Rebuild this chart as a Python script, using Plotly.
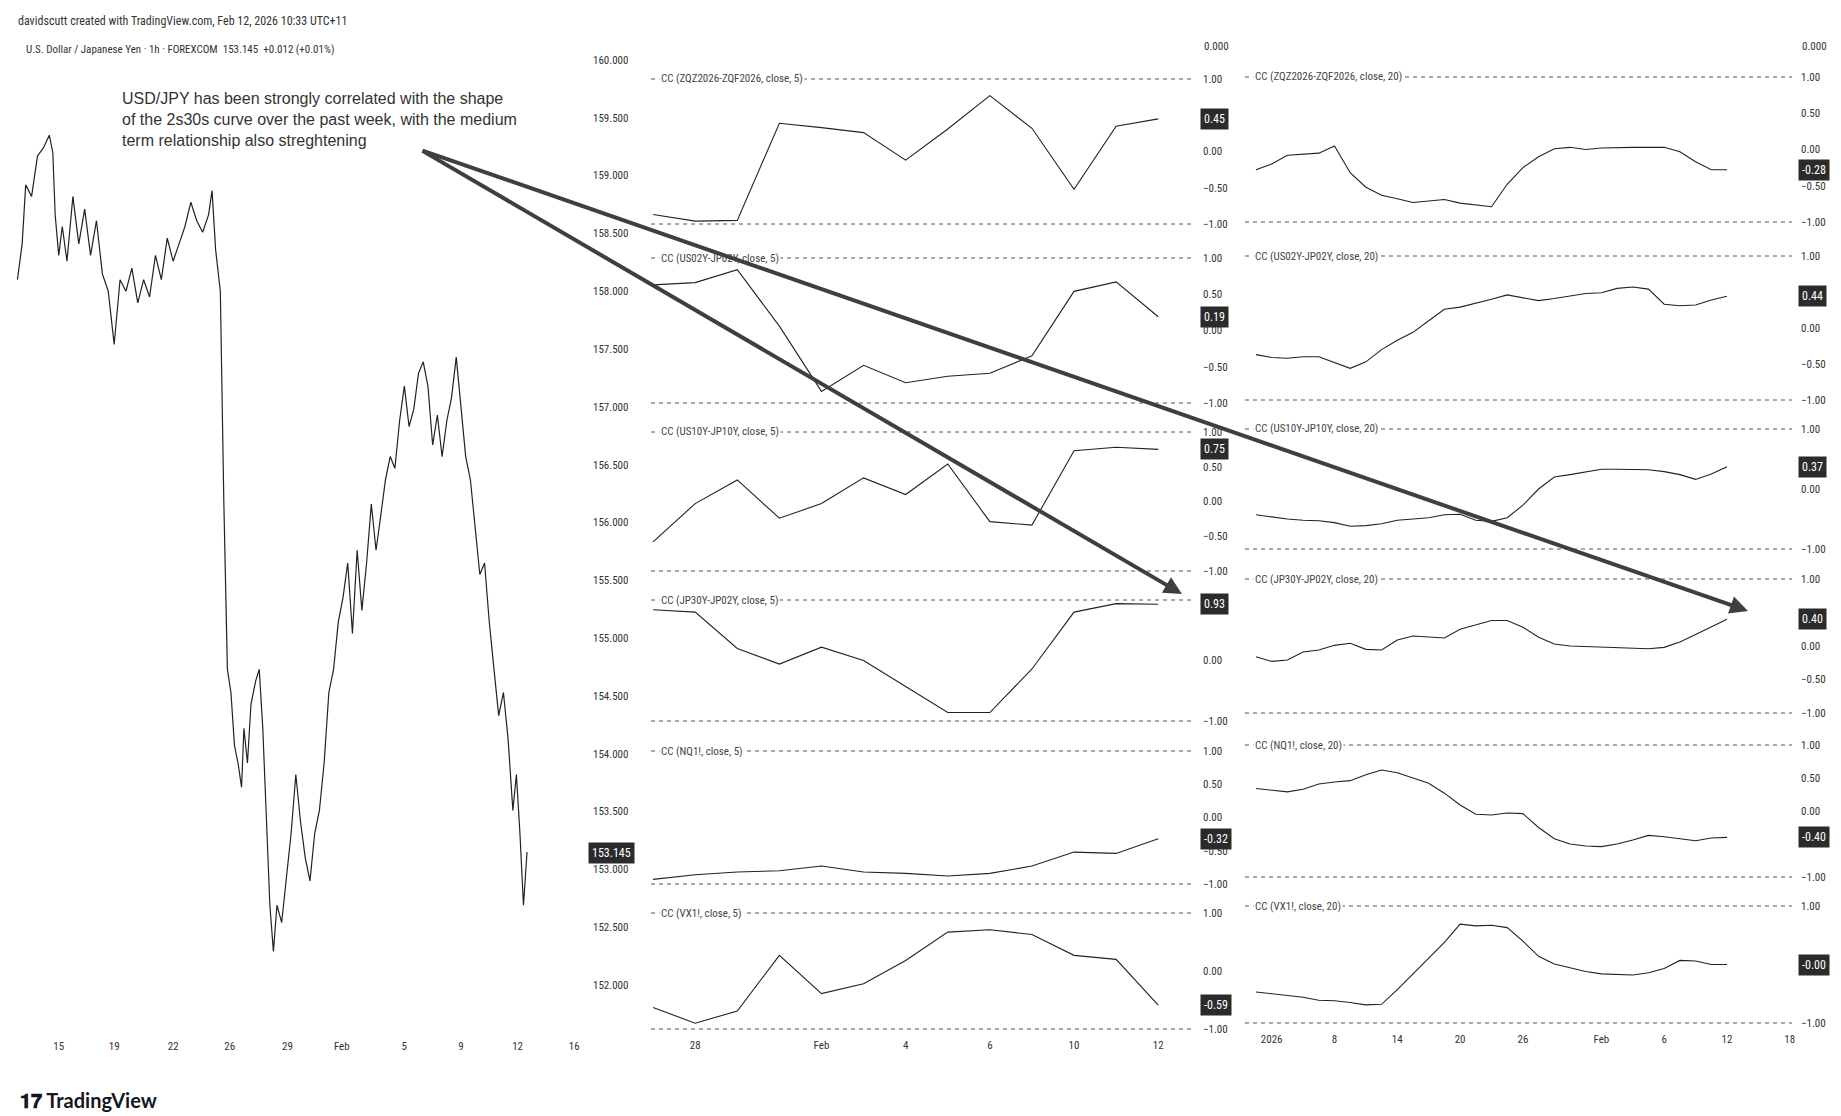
import plotly.graph_objects as go

W, H = 1841, 1116

# ---------------- DATA ----------------
# USD/JPY 1h (bar position, price)
usd_x = [8,12,15,20,25,30,35,38,40,43,46,50,55,60,65,70,75,80,85,90,95,100,105,110,115,120,125,130,135,140,
         145,150,155,160,165,170,173,176,180,183,186,189,192,195,198,200,203,206,210,213,216,219,222,225,228,232,236,240,244,248,
         252,256,260,264,268,272,276,280,284,288,292,296,300,304,308,312,316,320,324,328,332,336,340,344,348,352,356,360,364,368,
         372,376,380,384,388,392,396,400,404,408,412,416,420,424,428,431,434,437,440]
usd_p = [158.10,158.41,158.92,158.82,159.17,159.24,159.35,159.20,158.66,158.31,158.56,158.26,158.82,158.41,158.71,158.31,158.61,158.15,158.00,157.54,
         158.10,158.00,158.20,157.90,158.10,157.95,158.31,158.10,158.46,158.26,158.41,158.56,158.77,158.61,158.51,158.66,158.87,158.36,158.00,156.16,
         154.73,154.53,154.07,153.92,153.71,154.22,153.92,154.43,154.63,154.73,154.22,153.41,152.69,152.29,152.69,152.54,152.90,153.31,153.82,153.41,
         153.10,152.90,153.31,153.51,153.92,154.53,154.73,155.14,155.35,155.65,155.04,155.76,155.24,155.65,156.16,155.76,156.06,156.37,156.57,156.47,
         156.88,157.18,156.83,156.98,157.29,157.39,157.18,156.67,156.93,156.57,156.88,157.08,157.43,156.98,156.57,156.37,155.96,155.55,155.65,155.14,
         154.73,154.33,154.53,154.12,153.51,153.82,153.31,152.69,153.15]
usd_ticks_pos = [43, 90, 140, 188, 237, 283, 336, 384, 432, 480]
usd_ticks_txt = ["15", "19", "22", "26", "29", "Feb", "5", "9", "12", "16"]
last_price = 153.145

# 5-day correlations (trading day index 0 = Jan 27 ... 12 = Feb 12)
d5 = list(range(13))
d5_ticks_pos = [1, 4, 6, 8, 10, 12]
d5_ticks_txt = ["28", "Feb", "4", "6", "10", "12"]
cc5_names = ["ZQZ2026-ZQF2026", "US02Y-JP02Y", "US10Y-JP10Y", "JP30Y-JP02Y", "NQ1!", "VX1!"]
cc5_zq = [-0.87,-0.96,-0.95,0.39,0.33,0.26,-0.12,0.31,0.77,0.32,-0.52,0.35,0.45]
cc5_us2 = [0.63,0.66,0.84,0.06,-0.84,-0.48,-0.72,-0.63,-0.59,-0.35,0.54,0.67,0.19]
cc5_us10 = [-0.58,-0.03,0.31,-0.24,-0.03,0.34,0.10,0.54,-0.29,-0.34,0.73,0.78,0.75]
cc5_jp30 = [0.84,0.80,0.20,-0.06,0.22,0.00,-0.43,-0.86,-0.86,-0.14,0.80,0.94,0.93]
cc5_nq = [-0.93,-0.86,-0.82,-0.80,-0.73,-0.82,-0.84,-0.88,-0.84,-0.73,-0.52,-0.54,-0.32]
cc5_vx = [-0.63,-0.90,-0.69,0.27,-0.39,-0.22,0.18,0.67,0.71,0.63,0.27,0.20,-0.59]
cc5_last = ["0.45", "0.19", "0.75", "0.93", "-0.32", "-0.59"]

# 20-day correlations (trading day index 0 = Jan 2 ... 29 = Feb 12)
d20 = list(range(-1, 30))
d20_ticks_pos = [0, 4, 8, 12, 16, 21, 25, 29, 33]
d20_ticks_txt = ["2026", "8", "14", "20", "26", "Feb", "6", "12", "18"]
cc20_zq = [-0.28,-0.20,-0.08,-0.06,-0.05,0.05,-0.32,-0.52,-0.63,-0.68,-0.73,-0.71,-0.69,-0.74,-0.76,-0.79,
           -0.48,-0.25,-0.10,0.01,0.03,0.00,0.02,0.03,0.03,0.03,0.03,-0.03,-0.17,-0.28,-0.28]
cc20_us2 = [-0.37,-0.41,-0.42,-0.40,-0.40,-0.48,-0.56,-0.47,-0.30,-0.17,-0.06,0.10,0.26,0.29,0.34,0.40,
            0.46,0.42,0.38,0.41,0.44,0.48,0.49,0.55,0.57,0.54,0.33,0.31,0.32,0.39,0.44]
cc20_us10 = [-0.43,-0.47,-0.50,-0.52,-0.53,-0.56,-0.62,-0.61,-0.58,-0.52,-0.50,-0.48,-0.43,-0.42,-0.52,-0.54,
             -0.48,-0.27,0.00,0.20,0.24,0.28,0.33,0.33,0.33,0.32,0.29,0.24,0.16,0.25,0.37]
cc20_jp30 = [-0.16,-0.23,-0.21,-0.09,-0.06,0.01,0.04,-0.05,-0.06,0.09,0.15,0.13,0.12,0.25,0.31,0.38,
             0.38,0.28,0.13,0.03,0.00,-0.01,-0.02,-0.03,-0.04,-0.04,-0.02,0.06,0.17,0.28,0.40]
cc20_nq = [0.34,0.31,0.29,0.33,0.41,0.44,0.46,0.55,0.62,0.58,0.50,0.42,0.27,0.09,-0.05,-0.06,
           -0.03,-0.04,-0.25,-0.42,-0.50,-0.53,-0.54,-0.50,-0.44,-0.37,-0.39,-0.42,-0.45,-0.41,-0.40]
cc20_vx = [-0.47,-0.50,-0.53,-0.56,-0.61,-0.62,-0.65,-0.69,-0.68,-0.43,-0.16,0.11,0.38,0.69,0.66,0.67,
           0.63,0.40,0.14,0.01,-0.06,-0.12,-0.16,-0.17,-0.18,-0.14,-0.07,0.07,0.06,0.00,0.00]
cc20_last = ["-0.28", "0.44", "0.37", "0.40", "-0.40", "-0.00"]

cc5_vals = [cc5_zq, cc5_us2, cc5_us10, cc5_jp30, cc5_nq, cc5_vx]
cc20_vals = [cc20_zq, cc20_us2, cc20_us10, cc20_jp30, cc20_nq, cc20_vx]
cc5_tickv = [[1, 0, -0.5, -1], [1, 0.5, 0, -0.5, -1], [1, 0.5, 0, -0.5, -1], [0, -1], [1, 0.5, 0, -0.5, -1], [1, 0, -1]]
cc20_tickv = [[1, 0.5, 0, -0.5, -1], [1, 0, -0.5, -1], [1, 0, -1], [1, 0, -0.5, -1], [1, 0.5, 0, -1], [1, -1]]

# ---------------- LAYOUT GEOMETRY (pixels) ----------------
mid_rows = [(71, 216), (250, 395), (424, 563), (592, 713), (743, 876), (905, 1021)]
right_rows = [(69, 214), (248, 392), (421, 541), (571, 705), (737, 869), (898, 1015)]
PAD = 8
TXT = "#333333"
FONT = "Roboto Condensed, Liberation Sans Narrow, DejaVu Sans Condensed, Roboto, sans-serif"

def px(x): return x / W
def py(y): return 1 - y / H

fig = go.Figure()
lay = dict(width=W, height=H, margin=dict(l=0, r=0, t=0, b=0, autoexpand=False), plot_bgcolor="white",
           paper_bgcolor="white", showlegend=False, font=dict(family=FONT, size=11, color=TXT))

# Left USD/JPY
fig.add_trace(go.Scatter(x=usd_x, y=usd_p, mode="lines", line=dict(color="#222222", width=1.2),
                         xaxis="x", yaxis="y", hoverinfo="skip"))
top_p = 160 + (52 - 30) / 115.6
bot_p = 152 - (1030 - 977) / 115.6
lay["xaxis"] = dict(domain=[0, px(578)], range=[0, 490], tickvals=usd_ticks_pos, ticktext=usd_ticks_txt,
                    showgrid=False, zeroline=False, showline=False, ticks="", anchor="y",
                    automargin=False, tickfont=dict(size=11))
lay["yaxis"] = dict(domain=[py(1030), py(30)], range=[bot_p, top_p], side="right", anchor="x",
                    tickvals=[160 - 0.5 * i for i in range(17)], tickformat=".3f", showgrid=False,
                    zeroline=False, showline=False, ticks="", ticklabelstandoff=6, automargin=False,
                    tickfont=dict(size=11))

annotations = []
shapes = []

def column(xname, xdom, xrange, tpos, ttxt, xs, rows, vals, names, tickvs, lasts, axis_x, first_yidx, suffix):
    for k in range(6):
        yi = first_yidx + k
        yname = "y%d" % yi
        top, bot = rows[k]
        unit = (bot - top) / 2
        rng = [-1 - PAD / unit, 1 + PAD / unit]
        lay["yaxis%d" % yi] = dict(domain=[py(bot + PAD), py(top - PAD)], range=rng, anchor="free",
                                   position=px(axis_x), side="right", tickvals=tickvs[k],
                                   tickformat=".2f", showgrid=False, zeroline=False, showline=False,
                                   ticks="", ticklabelstandoff=4, automargin=False, tickfont=dict(size=11))
        fig.add_trace(go.Scatter(x=xs, y=vals[k], mode="lines", line=dict(color="#222222", width=1.1),
                                 xaxis=xname, yaxis=yname, hoverinfo="skip"))
        for lv in (1, -1):
            shapes.append(dict(type="line", xref=xname + " domain", x0=0, x1=1, yref=yname, y0=lv, y1=lv,
                               line=dict(color="#555555", width=1, dash="4px,4px")))
        annotations.append(dict(xref=xname + " domain", x=0.015, yref=yname, y=1, xanchor="left",
                                yanchor="middle", showarrow=False, bgcolor="white",
                                text="CC (%s, close, %s)" % (names[k], suffix),
                                font=dict(size=11, color="#444444")))
        annotations.append(dict(xref="paper", x=px(axis_x + 2), yref=yname, y=float(lasts[k]),
                                xanchor="left", yanchor="middle", showarrow=False, bgcolor="#2b2b2b",
                                borderpad=3, text=lasts[k], font=dict(size=12, color="white")))
    bottom_y = "y%d" % (first_yidx + 5)
    lay["xaxis" + xname[1:]] = dict(domain=[px(xdom[0]), px(xdom[1])], range=xrange, anchor=bottom_y,
                                     tickvals=tpos, ticktext=ttxt, showgrid=False, zeroline=False,
                                     showline=False, ticks="", automargin=False, tickfont=dict(size=11))
    annotations.append(dict(xref="paper", x=px(axis_x + 4), yref="paper", y=py(39), xanchor="left",
                            yanchor="middle", showarrow=False, text="0.000", font=dict(size=11, color=TXT)))

column("x2", (643, 1186), [-0.05, 12.85], d5_ticks_pos, d5_ticks_txt, d5, mid_rows, cc5_vals,
       cc5_names, cc5_tickv, cc5_last, 1190, 2, "5")
column("x3", (1237, 1784), [-1.7, 33.14], d20_ticks_pos, d20_ticks_txt, d20, right_rows, cc20_vals,
       cc5_names, cc20_tickv, cc20_last, 1788, 8, "20")

# price badge
annotations.append(dict(xref="paper", x=px(580), yref="y", y=last_price, xanchor="left", yanchor="middle",
                        showarrow=False, bgcolor="#2b2b2b", borderpad=3, text="153.145",
                        font=dict(size=12, color="white")))
# header texts
annotations.append(dict(xref="paper", x=px(8), yref="paper", y=py(13), xanchor="left", yanchor="middle",
                        showarrow=False, text="davidscutt created with TradingView.com, Feb 12, 2026 10:33 UTC+11",
                        font=dict(size=12, color=TXT)))
annotations.append(dict(xref="paper", x=px(16), yref="paper", y=py(41), xanchor="left", yanchor="middle",
                        showarrow=False, text="U.S. Dollar / Japanese Yen · 1h · FOREXCOM  153.145  +0.012 (+0.01%)",
                        font=dict(size=11, color=TXT)))
annotations.append(dict(xref="paper", x=px(112), yref="paper", y=py(80), xanchor="left", yanchor="top",
                        align="left", showarrow=False,
                        text="USD/JPY has been strongly correlated with the shape<br>of the 2s30s curve over the past week, with the medium<br>term relationship also streghtening",
                        font=dict(family="Liberation Sans, Arial", size=16, color="#333333")))
annotations.append(dict(xref="paper", x=px(10), yref="paper", y=py(1092), xanchor="left", yanchor="middle",
                        showarrow=False, text="<b>𝟏𝟕 TradingView</b>",
                        font=dict(family="Lato, sans-serif", size=20, color="#131722")))
# arrows
tail = (413, 142)
for head in [(1174, 586), (1740, 603)]:
    annotations.append(dict(xref="paper", yref="paper", x=px(head[0]), y=py(head[1]), ax=tail[0] - head[0],
                            ay=tail[1] - head[1], axref="pixel", ayref="pixel", showarrow=True, arrowhead=2,
                            arrowsize=0.9, arrowwidth=4, arrowcolor="#3f3f3f", text=""))

lay["annotations"] = annotations
lay["shapes"] = shapes
fig.update_layout(**lay)
fig.write_html("out.html")
